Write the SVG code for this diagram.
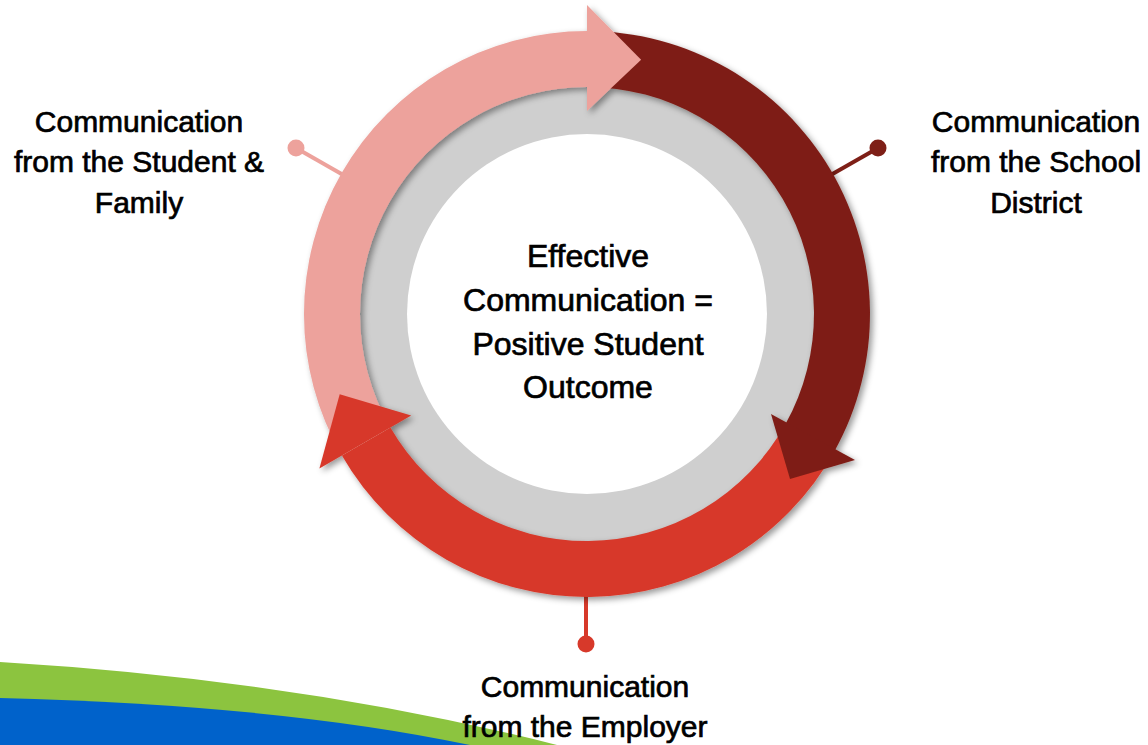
<svg xmlns="http://www.w3.org/2000/svg" width="1148" height="745" viewBox="0 0 1148 745">
  <defs>
    <style>
      .lbl { font-family: "Liberation Sans", Arial, sans-serif; font-size: 30px; fill: #000; stroke: #000; stroke-width: 0.7px; text-anchor: middle; }
      .ctr { font-family: "Liberation Sans", Arial, sans-serif; font-size: 32px; fill: #000; stroke: #000; stroke-width: 0.7px; text-anchor: middle; }
      .pink { fill: #EDA29C; }
      .maroon { fill: #7E1F17; }
      .red { fill: #D7392A; }
    </style>
    <filter id="softShadow" x="-10%" y="-10%" width="120%" height="120%">
      <feDropShadow dx="3" dy="3" stdDeviation="3" flood-color="#000" flood-opacity="0.4"/>
    </filter>
  </defs>

  <rect width="1148" height="745" fill="#FFFFFF"/>

  <!-- decorative swoosh, bottom left -->
  <g id="swoosh">
    <path d="M0,662 Q300,680 557,745 L0,745 Z" fill="#8CC43F"/>
    <path d="M0,698 Q280,705 470,745 L0,745 Z" fill="#0062CB"/>
  </g>

  <!-- leader lines from the ring to the labels -->
  <g id="connectors">
    <line x1="352.5" y1="180.2" x2="296" y2="148" stroke="#EDA29C" stroke-width="4"/>
    <circle cx="296" cy="148" r="8.5" class="pink"/>
    <line x1="821.5" y1="180.2" x2="878" y2="148" stroke="#7E1F17" stroke-width="4"/>
    <circle cx="878" cy="148" r="8.5" class="maroon"/>
    <line x1="586" y1="585" x2="586" y2="644" stroke="#D7392A" stroke-width="4"/>
    <circle cx="586" cy="644" r="8.5" class="red"/>
  </g>

  <!-- centre disc with grey ring -->
  <g id="center">
    <circle cx="587" cy="314" r="235" fill="#CFCFCF"/>
    <circle cx="587" cy="314" r="180" fill="#FFFFFF"/>
    <text class="ctr" x="588" y="267">Effective</text>
    <text class="ctr" x="588" y="311">Communication =</text>
    <text class="ctr" x="588" y="355">Positive Student</text>
    <text class="ctr" x="588" y="398">Outcome</text>
  </g>

  <!-- circular arrows: bodies first, then heads on top -->
  <g id="cycle" filter="url(#softShadow)">
    <path id="arc-district" class="maroon" d="M587,31 A283,283 0 0,1 834.5,451.2 L785.5,424.1 A227,227 0 0,0 587,87 Z"/>
    <path id="arc-employer" class="red" d="M834.5,451.2 A283,283 0 0,1 341.9,455.5 L390.4,427.5 A227,227 0 0,0 785.5,424.1 Z"/>
    <path id="arc-family" class="pink" d="M341.9,455.5 A283,283 0 0,1 587,31 L587,87 A227,227 0 0,0 390.4,427.5 Z"/>
    <path id="head-district" class="maroon" d="M855,460 L790,479 L771,414 Z"/>
    <path id="head-employer" class="red" d="M319.4,468.5 L339.7,394.3 L411.2,415.5 Z"/>
    <path id="head-family" class="pink" d="M587,5 L641.1,59.7 L587,111 Z"/>
  </g>

  <g id="student-family">
    <text class="lbl" x="139" y="132">Communication</text>
    <text class="lbl" x="139" y="172">from the Student &amp;</text>
    <text class="lbl" x="139" y="213">Family</text>
  </g>

  <g id="school-district">
    <text class="lbl" x="1036" y="132">Communication</text>
    <text class="lbl" x="1036" y="172">from the School</text>
    <text class="lbl" x="1036" y="213">District</text>
  </g>

  <g id="employer">
    <text class="lbl" x="585" y="697">Communication</text>
    <text class="lbl" x="585" y="737">from the Employer</text>
  </g>
</svg>
